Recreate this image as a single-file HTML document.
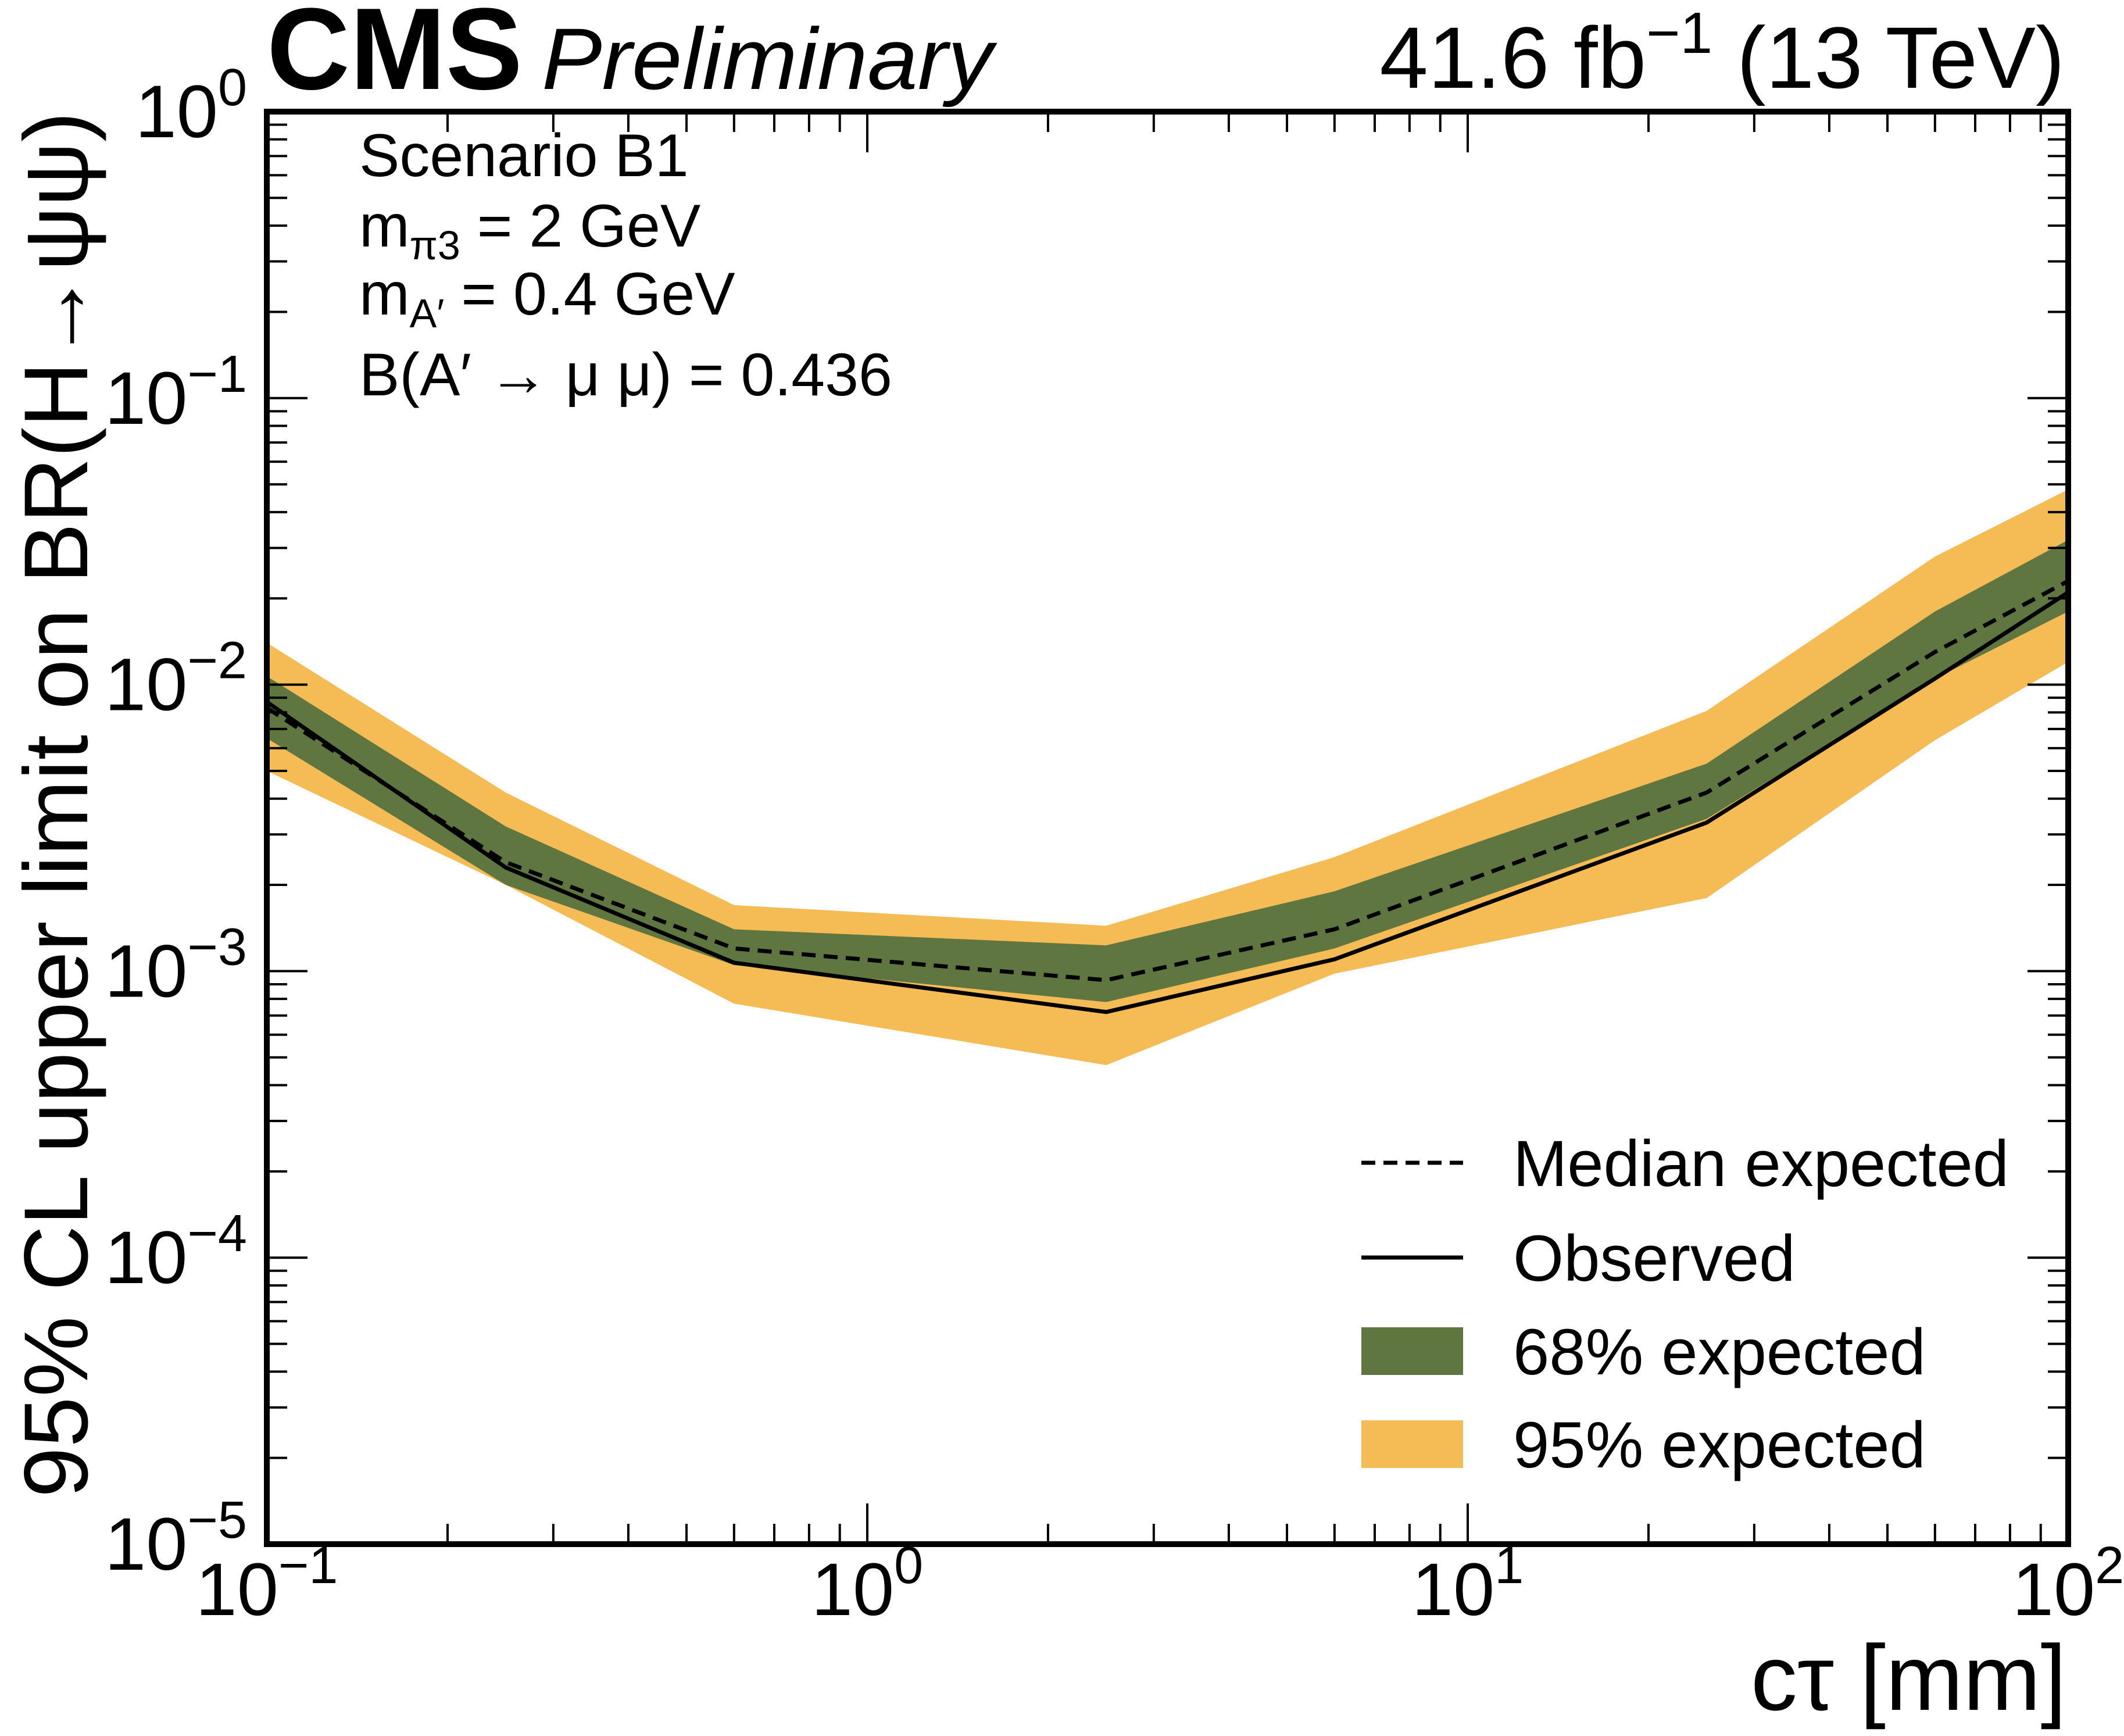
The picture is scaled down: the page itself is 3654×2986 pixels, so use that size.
<!DOCTYPE html>
<html><head><meta charset="utf-8"><style>
html,body{margin:0;padding:0;background:#fff;}
svg{display:block;font-family:"Liberation Sans",sans-serif;}
</style></head><body>
<svg id="chart" width="3654" height="2986" viewBox="0 0 3654 2986" xmlns="http://www.w3.org/2000/svg">
<g id="bands"></g>
<g id="lines"></g>
<g id="ticks"></g>
<rect x="459" y="192" width="3099" height="2464" fill="none" stroke="#000" stroke-width="10"/>
<g id="labels" font-size="128"></g>
<text x="459" y="153" font-size="200" font-weight="bold" textLength="440" lengthAdjust="spacingAndGlyphs">CMS</text>
<text x="932" y="153" font-size="150" font-style="italic" textLength="776" lengthAdjust="spacingAndGlyphs">Preliminary</text>
<text x="3552" y="151" font-size="150" text-anchor="end">41.6 fb<tspan dy="-60" font-size="100">−1</tspan><tspan dy="60"> (13 TeV)</tspan></text>
<text x="3555" y="2941" font-size="160" text-anchor="end">cτ [mm]</text>
<text transform="translate(150,192) rotate(-90)" font-size="156" text-anchor="end">95% CL upper limit on BR(H→ψψ)</text>
<g font-size="104">
<text x="618" y="303">Scenario B1</text>
<text x="618" y="424">m<tspan dy="22" font-size="70">π3</tspan><tspan dy="-22"> = 2 GeV</tspan></text>
<text x="618" y="541">m<tspan dy="22" font-size="70">A′</tspan><tspan dy="-22"> = 0.4 GeV</tspan></text>
<text x="618" y="680">B(A′ → μ μ) = 0.436</text>
</g>
<g font-size="112">
<line x1="2342" y1="2000" x2="2517" y2="2000" stroke="#000" stroke-width="7" stroke-dasharray="24,14"/>
<text x="2603" y="2040">Median expected</text>
<line x1="2342" y1="2163" x2="2517" y2="2163" stroke="#000" stroke-width="7"/>
<text x="2603" y="2203">Observed</text>
<rect x="2342" y="2283" width="175" height="82" fill="#607641"/>
<text x="2603" y="2364">68% expected</text>
<rect x="2342" y="2443" width="175" height="82" fill="#F5BB54"/>
<text x="2603" y="2524">95% expected</text>
</g>
</svg>
<script>
const ctau = [0.1, 0.25, 0.6, 2.5, 6, 25, 60, 100];
const median = [8.3e-3, 2.4e-3, 1.2e-3, 9.3e-4, 1.4e-3, 4.2e-3, 1.3e-2, 2.3e-2];
const observed = [8.7e-3, 2.3e-3, 1.07e-3, 7.2e-4, 1.1e-3, 3.3e-3, 1.05e-2, 2.1e-2];
const up68 = [1.07e-2, 3.2e-3, 1.4e-3, 1.23e-3, 1.9e-3, 5.3e-3, 1.8e-2, 3.2e-2];
const lo68 = [6.5e-3, 2.0e-3, 1.05e-3, 7.8e-4, 1.2e-3, 3.4e-3, 1.05e-2, 1.8e-2];
const up95 = [1.4e-2, 4.2e-3, 1.7e-3, 1.44e-3, 2.5e-3, 8.1e-3, 2.8e-2, 4.8e-2];
const lo95 = [5.0e-3, 2.0e-3, 7.7e-4, 4.7e-4, 9.8e-4, 1.8e-3, 6.4e-3, 1.2e-2];
const xExp = [-1, 0, 1, 2];
const yExp = [0, -1, -2, -3, -4, -5];

const X0=459, X1=3558, Y0=192, Y1=2656;
const xs = v => X0 + (Math.log10(v) + 1) / 3 * (X1 - X0);
const ys = v => Y0 + (0 - Math.log10(v)) / 5 * (Y1 - Y0);
const NS = "http://www.w3.org/2000/svg";
function mk(tag, parent){ const e=document.createElementNS(NS,tag); document.getElementById(parent).appendChild(e); return e; }

function band(up, lo, color, name, parent){
  const pts = ctau.map((c,i)=>xs(c)+","+ys(up[i])).concat(ctau.slice().reverse().map((c,j)=>{const i=ctau.length-1-j;return xs(c)+","+ys(lo[i]);}));
  const p = mk("polygon", parent);
  
  
  p.setAttribute("points", pts.join(" "));
  p.setAttribute("fill", color);
}
band(up95, lo95, "#F5BB54", "band-95", "bands");
band(up68, lo68, "#607641", "band-68", "bands");

function line(vals, name, dash){
  const p = mk("polyline", "lines");
  
  
  p.setAttribute("points", ctau.map((c,i)=>xs(c)+","+ys(vals[i])).join(" "));
  p.setAttribute("fill","none"); p.setAttribute("stroke","#000"); p.setAttribute("stroke-width","7");
  if(dash) p.setAttribute("stroke-dasharray","24,14");
}
line(median, "median-expected-line", true);
line(observed, "observed-line", false);

function tick(x1,y1,x2,y2){
  const t = mk("line","ticks");
  
  
  t.setAttribute("x1",x1);t.setAttribute("y1",y1);t.setAttribute("x2",x2);t.setAttribute("y2",y2);
  t.setAttribute("stroke","#000");t.setAttribute("stroke-width","4");
}
for(let d=-1; d<2; d++) for(let m=1; m<10; m++){
  const x = xs(m*Math.pow(10,d)); const L = m===1?70:35;
  tick(x,Y1,x,Y1-L); tick(x,Y0,x,Y0+L);
}
for(let d=-5; d<0; d++) for(let m=1; m<10; m++){
  const y = ys(m*Math.pow(10,d)); const L = m===1?70:35;
  tick(X0,y,X0+L,y); tick(X1,y,X1-L,y);
}
xExp.forEach(e=>{
  const t = mk("text","labels");
  
  
  t.setAttribute("x", xs(Math.pow(10,e))); t.setAttribute("y", 2778); t.setAttribute("text-anchor","middle");
  t.innerHTML = '10<tspan dy="-55" font-size="90">'+(e<0?'−'+(-e):e)+'</tspan>';
});
yExp.forEach(e=>{
  const t = mk("text","labels");
  
  
  t.setAttribute("x", 425); t.setAttribute("y", ys(Math.pow(10,e))+44); t.setAttribute("text-anchor","end");
  t.innerHTML = '10<tspan dy="-55" font-size="90">'+(e<0?'−'+(-e):e)+'</tspan>';
});
</script>
</body></html>
